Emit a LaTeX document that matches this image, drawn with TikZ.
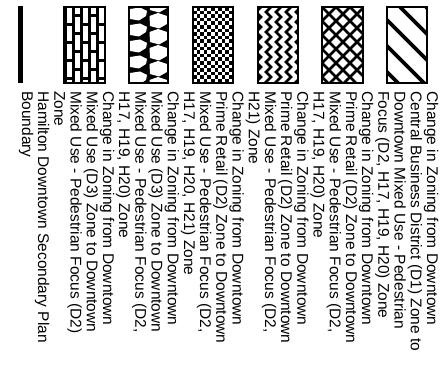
\documentclass[tikz,border=0pt]{standalone}
\usepackage{fontspec}
\setmainfont{Liberation Sans}
\begin{document}
\begin{tikzpicture}[x=1pt,y=-1pt,
  lbl/.style={font=\fontsize{15.5}{16}\selectfont, rotate=-90, anchor=base west, inner sep=0pt},
  frame/.style={draw=black, line width=2.8pt},
  hatch/.style={draw=black, line width=2.8pt}]
\useasboundingbox[fill=white] (0,0) rectangle (442,371);
% ---------- swatches ----------
% boundary line
\draw[line width=4.3pt] (20.5,6) -- (20.5,83);
% brick
\fill[black] (64,7) rectangle (105,83);
\begin{scope}
\clip (64,7) rectangle (105,83);
\foreach \c in {0,...,4}{
  \pgfmathsetmacro{\xx}{66.5+8*\c}
  \pgfmathsetmacro{\off}{mod(\c,2)*9}
  \foreach \r in {-1,...,4}{
    \fill[white] (\xx,7+\off+18*\r+1.5) rectangle ++(5.4,15);
  }
}
\end{scope}
\draw[frame] (64,7) rectangle (105,83);
% stone
\fill[black] (129,7) rectangle (168,83);
\begin{scope}
\clip (129,7) rectangle (168,83);
\foreach \r in {-1,...,5}{
  \fill[white] (130,7+16*\r+2) -- (140,7+16*\r+0.5) -- (147,7+16*\r+4) -- (146,7+16*\r+9) -- (139,7+16*\r+13.5) -- (130,7+16*\r+12) -- cycle;
  \fill[white] (149.5,7+16*\r+9) -- (158,7+16*\r+6) -- (167,7+16*\r+9) -- (167,7+16*\r+17) -- (159,7+16*\r+21.5) -- (150,7+16*\r+19) -- cycle;
}
\end{scope}
\draw[frame] (129,7) rectangle (168,83);
% checker
\fill[black] (193,7) rectangle (233,83);
\begin{scope}
\clip (193,7) rectangle (233,83);
\foreach \i in {0,...,5}{
  \foreach \j in {0,...,10}{
    \fill[white] (193+7.2*\i,7+7.2*\j) rectangle ++(3.6,3.6);
    \fill[white] (196.6+7.2*\i,10.6+7.2*\j) rectangle ++(3.6,3.6);
  }
}
\end{scope}
\draw[frame] (193,7) rectangle (233,83);
% zigzag
\begin{scope}
\clip (258,7) rectangle (298,83);
\foreach \k in {0,...,4}{
  \draw[hatch, line join=miter] (256+10*\k,2) \foreach \j in {0,...,8}{ -- ++(5,5) -- ++(-5,5)};
}
\end{scope}
\draw[frame] (258,7) rectangle (298,83);
% crosshatch
\begin{scope}
\clip (322,7) rectangle (363,83);
\foreach \k in {-6,...,6}{
  \draw[hatch] (322+14*\k,7) -- ++(90,90);
  \draw[hatch] (336+14*\k,7) -- ++(-90,90);
}
\end{scope}
\draw[frame] (322,7) rectangle (363,83);
% diagonal
\begin{scope}
\clip (387,7) rectangle (427,83);
\foreach \k in {-4,...,2}{
  \draw[draw=black, line width=3.6pt] (400+26*\k,7) -- ++(90,90);
}
\end{scope}
\draw[frame] (387,7) rectangle (427,83);
% ---------- texts ----------
\def\ty{91}
\node[lbl] (t1)  at (427.0,\ty) {Change in Zoning from Downtown};
\node[lbl] (t2)  at (410.8,\ty) {Central Business District (D1) Zone to};
\node[lbl] (t3)  at (394.6,\ty) {Downtown Mixed Use - Pedestrian};
\node[lbl] (t4)  at (378.4,\ty) {Focus (D2, H17, H19, H20) Zone};
\node[lbl] (t5)  at (362.2,\ty) {Change in Zoning from Downtown};
\node[lbl] (t6)  at (346.0,\ty) {Prime Retail (D2) Zone to Downtown};
\node[lbl] (t7)  at (329.8,\ty) {Mixed Use - Pedestrian Focus (D2,};
\node[lbl] (t8)  at (313.6,\ty) {H17, H19, H20) Zone};
\node[lbl] (t9)  at (297.4,\ty) {Change in Zoning from Downtown};
\node[lbl] (t10) at (281.2,\ty) {Prime Retail (D2) Zone to Downtown};
\node[lbl] (t11) at (265.0,\ty) {Mixed Use - Pedestrian Focus (D2,};
\node[lbl] (t12) at (248.8,\ty) {H21) Zone};
\node[lbl] (t13) at (232.6,\ty) {Change in Zoning from Downtown};
\node[lbl] (t14) at (216.4,\ty) {Prime Retail (D2) Zone to Downtown};
\node[lbl] (t15) at (200.2,\ty) {Mixed Use - Pedestrian Focus (D2,};
\node[lbl] (t16) at (184.0,\ty) {H17, H19, H20, H21) Zone};
\node[lbl] (t17) at (167.8,\ty) {Change in Zoning from Downtown};
\node[lbl] (t18) at (151.6,\ty) {Mixed Use (D3) Zone to Downtown};
\node[lbl] (t19) at (135.4,\ty) {Mixed Use - Pedestrian Focus (D2,};
\node[lbl] (t20) at (119.2,\ty) {H17, H19, H20) Zone};
\node[lbl] (t21) at (103.0,\ty) {Change in Zoning from Downtown};
\node[lbl] (t22) at (86.8,\ty)  {Mixed Use (D3) Zone to Downtown};
\node[lbl] (t23) at (70.6,\ty)  {Mixed Use - Pedestrian Focus (D2)};
\node[lbl] (t24) at (54.4,\ty)  {Zone};
\node[lbl] (t25) at (38.2,\ty)  {Hamilton Downtown Secondary Plan};
\node[lbl] (t26) at (22.0,\ty)  {Boundary};
\end{tikzpicture}
\end{document}
